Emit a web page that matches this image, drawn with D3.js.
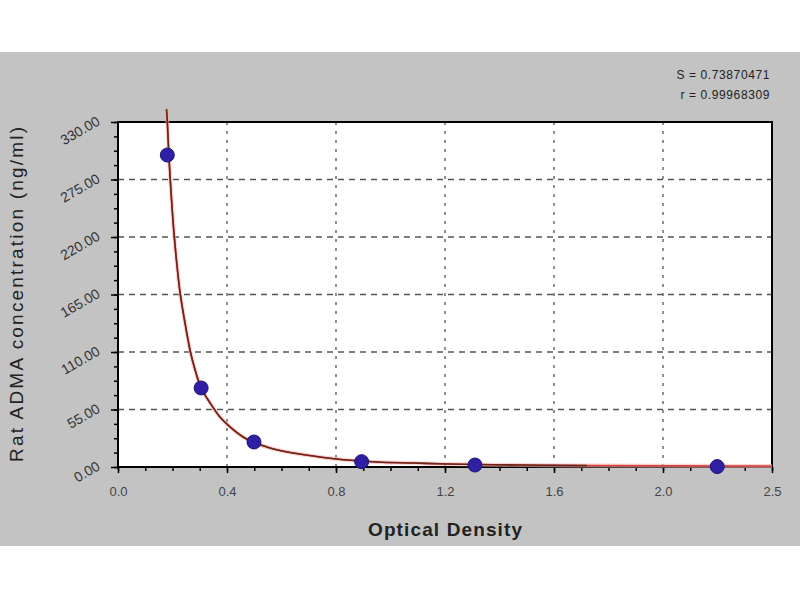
<!DOCTYPE html>
<html>
<head>
<meta charset="utf-8">
<script src="https://cdn.jsdelivr.net/npm/d3@7"></script>
<style>
  body { margin: 0; background: #fff; }
  svg { display: block; font-family: Arial, "Liberation Sans", sans-serif; }
</style>
</head>
<body>
<svg id="chart" width="800" height="600"></svg>
<script>
// standard points (OD vs concentration)
const pointOD = [0.181, 0.305, 0.499, 0.894, 1.310, 2.199];
const pointConc = [298.4, 75.6, 23.9, 5.1, 1.9, 0.4];

// fitted curve
const curveOD = [0.178, 0.181, 0.188, 0.197, 0.206, 0.219, 0.228, 0.244, 0.265, 0.283, 0.305,
  0.338, 0.374, 0.411, 0.459, 0.495, 0.558, 0.642, 0.741, 0.840, 0.950, 1.083, 1.207, 1.475, 1.721, 2.4];
const curveConc = [342.4, 330.0, 291.7, 253.5, 221.9, 186.5, 166.4, 140.6, 111.0, 92.8, 75.6,
  61.2, 47.8, 38.3, 28.7, 23.9, 18.2, 13.4, 9.6, 6.7, 4.8, 3.8, 2.9, 1.9, 1.4, 1.0];

const xTicks = [0, 0.4, 0.8, 1.2, 1.6, 2.0, 2.4];
const xTickLabels = ['0.0', '0.4', '0.8', '1.2', '1.6', '2.0', '2.5'];
const yTicks = [0, 55, 110, 165, 220, 275, 330];
const yTickLabels = ['0.00', '55.00', '110.00', '165.00', '220.00', '275.00', '330.00'];
const statLines = ['S = 0.73870471', 'r = 0.99968309'];

const svg = d3.select('#chart');
const pLeft = 118, pRight = 772, pTop = 122, pBottom = 467;

const x = d3.scaleLinear().domain([0, 2.4]).range([pLeft, pRight]);
const y = d3.scaleLinear().domain([0, 330]).range([pBottom, pTop]);

// gray panel
svg.append('rect')
  .attr('x', 0).attr('y', 52)
  .attr('width', 800).attr('height', 494)
  .attr('fill', '#c3c3c3');

svg.append('rect')
  .attr('x', pLeft).attr('y', pTop)
  .attr('width', pRight - pLeft).attr('height', pBottom - pTop)
  .attr('fill', '#fff');

// grid
svg.append('g')
  .selectAll('line')
  .data(yTicks.slice(1, -1))
  .enter()
  .append('line')
  .attr('x1', pLeft).attr('x2', pRight)
  .attr('y1', d => y(d)).attr('y2', d => y(d))
  .attr('stroke', '#555')
  .attr('stroke-width', 1.3)
  .attr('stroke-dasharray', '6,5');

svg.append('g')
  .selectAll('line')
  .data(xTicks.slice(1, -1))
  .enter()
  .append('line')
  .attr('x1', d => x(d)).attr('x2', d => x(d))
  .attr('y1', pTop).attr('y2', pBottom)
  .attr('stroke', '#555')
  .attr('stroke-width', 1.3)
  .attr('stroke-dasharray', '3,6');

// axes with minor ticks
svg.append('g')
  .attr('transform', `translate(0,${pBottom})`)
  .call(d3.axisBottom(x).tickValues(d3.range(0, 2.41, 0.1)).tickSize(4).tickFormat(''))
  .call(g => g.selectAll('.tick line').attr('stroke', '#000').attr('stroke-width', 1.5))
  .call(g => g.select('.domain').remove());

svg.append('g')
  .attr('transform', `translate(0,${pBottom})`)
  .call(d3.axisBottom(x).tickValues(xTicks).tickSize(6).tickFormat((d, i) => xTickLabels[i]))
  .call(g => g.select('.domain').remove())
  .call(g => g.selectAll('.tick line').attr('stroke', '#000').attr('stroke-width', 1.5))
  .call(g => g.selectAll('text')
    .attr('y', 20)
    .attr('font-size', 13)
    .attr('fill', '#444'));

svg.append('g')
  .attr('transform', `translate(${pLeft},0)`)
  .call(d3.axisLeft(y).tickValues(d3.range(0, 330.1, 13.75)).tickSize(4).tickFormat(''))
  .call(g => g.selectAll('.tick line').attr('stroke', '#000').attr('stroke-width', 1.5))
  .call(g => g.select('.domain').remove());

svg.append('g')
  .attr('transform', `translate(${pLeft},0)`)
  .call(d3.axisLeft(y).tickValues(yTicks).tickSize(7).tickFormat(''))
  .call(g => g.select('.domain').remove())
  .call(g => g.selectAll('.tick line').attr('stroke', '#000').attr('stroke-width', 1.5));

// slanted y labels
svg.append('g')
  .selectAll('text')
  .data(yTicks)
  .enter()
  .append('text')
  .attr('transform', d => `translate(101,${y(d) + 2}) rotate(-30)`)
  .attr('text-anchor', 'end')
  .attr('font-size', 14)
  .attr('fill', '#333')
  .text((d, i) => yTickLabels[i]);

// frame
svg.append('rect')
  .attr('x', pLeft).attr('y', pTop)
  .attr('width', pRight - pLeft).attr('height', pBottom - pTop)
  .attr('fill', 'none')
  .attr('stroke', '#000')
  .attr('stroke-width', 2);

// curve
const curve = curveOD.map((d, i) => ({ od: d, c: curveConc[i] }));
const line = d3.line()
  .x(d => x(d.od))
  .y(d => y(d.c))
  .curve(d3.curveCatmullRom.alpha(0.5));

svg.append('path')
  .datum(curve)
  .attr('d', line)
  .attr('fill', 'none')
  .attr('stroke', '#f2b8b8')
  .attr('stroke-width', 4)
  .attr('opacity', 0.6);

svg.append('path')
  .datum(curve)
  .attr('d', line)
  .attr('fill', 'none')
  .attr('stroke', '#e2433b')
  .attr('stroke-width', 1.6);

svg.append('path')
  .datum(curve.filter(d => d.od <= 1.75))
  .attr('d', line)
  .attr('fill', 'none')
  .attr('stroke', '#6a2519')
  .attr('stroke-width', 1.6);

// points
svg.append('g')
  .selectAll('circle')
  .data(pointOD)
  .enter()
  .append('circle')
  .attr('cx', d => x(d))
  .attr('cy', (d, i) => y(pointConc[i]))
  .attr('r', 7)
  .attr('fill', '#2f1fa3')
  .attr('stroke', '#1c1378')
  .attr('stroke-width', 1);

// titles
svg.append('text')
  .attr('x', (pLeft + pRight) / 2)
  .attr('y', 536)
  .attr('text-anchor', 'middle')
  .attr('font-size', 19)
  .attr('font-weight', 'bold')
  .attr('fill', '#222')
  .attr('textLength', 154)
  .attr('lengthAdjust', 'spacing')
  .text('Optical Density');

svg.append('text')
  .attr('transform', `translate(23,${(pTop + pBottom) / 2}) rotate(-90)`)
  .attr('text-anchor', 'middle')
  .attr('font-size', 19)
  .attr('fill', '#222')
  .attr('textLength', 335)
  .attr('lengthAdjust', 'spacing')
  .text('Rat ADMA concentration (ng/ml)');

// fit stats
svg.append('g')
  .selectAll('text')
  .data(statLines)
  .enter()
  .append('text')
  .attr('x', 770)
  .attr('y', (d, i) => 79 + i * 20)
  .attr('text-anchor', 'end')
  .attr('font-size', 12)
  .attr('letter-spacing', 0.6)
  .attr('fill', '#222')
  .text(d => d);
</script>
</body>
</html>
